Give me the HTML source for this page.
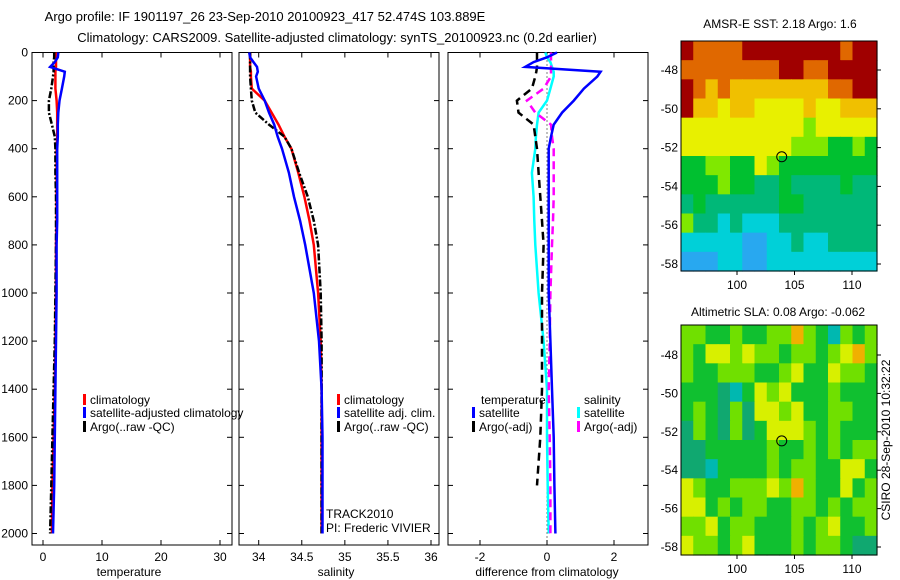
<!DOCTYPE html>
<html><head><meta charset="utf-8"><style>
body{margin:0;background:#fff}
svg{display:block;font-family:"Liberation Sans",sans-serif}
text{font-size:12px;fill:#000}
</style></head><body>
<svg id="c" width="900" height="580" viewBox="0 0 900 580">
<text x="265" y="21" text-anchor="middle" style="font-size:13px">Argo profile: IF 1901197_26 23-Sep-2010 20100923_417 52.474S 103.889E</text>
<text x="337" y="42" text-anchor="middle" style="font-size:13px">Climatology: CARS2009. Satellite-adjusted climatology: synTS_20100923.nc (0.2d earlier)</text>
<text x="780" y="28" text-anchor="middle">AMSR-E SST: 2.18 Argo: 1.6</text>
<text x="778" y="316" text-anchor="middle">Altimetric SLA: 0.08 Argo: -0.062</text>
<text transform="translate(890,440) rotate(-90)" text-anchor="middle">CSIRO 28-Sep-2010 10:32:22</text>
<g id="g"></g>
</svg>
<script>
// ---- data ----
const depths=[0,20,40,60,80,100,150,200,250,300,350,400,500,600,700,800,1000,1200,1400,1600,1800,2000];
const tempClim=[2.2,2.2,2.2,2.2,2.1,2.1,2.1,2.3,2.4,2.4,2.4,2.3,2.3,2.3,2.3,2.2,2.2,2.1,2.0,1.8,1.6,1.5];
const tempSat=[2.6,2.5,2.0,1.2,3.7,3.6,3.2,2.8,2.6,2.5,2.5,2.4,2.4,2.4,2.4,2.3,2.3,2.2,2.1,2.0,1.9,1.7];
const tempArgo=[1.9,1.9,1.8,1.8,1.8,1.7,1.4,1.0,1.0,1.5,2.0,2.1,2.1,2.2,2.2,2.2,2.1,2.0,1.8,1.6,1.4,1.2];
const salClim=[33.9,33.9,33.9,33.9,33.91,33.91,33.92,34.07,34.15,34.23,34.3,34.38,34.46,34.53,34.59,34.64,34.69,34.72,34.73,34.73,34.73,34.73];
const salSat=[33.89,33.9,33.94,33.98,33.99,33.97,34.0,34.07,34.12,34.18,34.22,34.27,34.35,34.41,34.48,34.54,34.64,34.7,34.73,34.74,34.74,34.74];
const salArgo=[33.9,33.9,33.9,33.9,33.9,33.9,33.91,33.92,33.96,34.12,34.3,34.38,34.47,34.57,34.64,34.69,34.72,34.73,34.73,34.73,34.73,34.73];
const dTempSat=[0.3,0,-0.4,-0.65,1.6,1.5,1.1,0.8,0.45,0.2,0.12,0.05,0.05,0.05,0.05,0.05,0.05,0.1,0.15,0.2,0.22,0.25];
const dTempArgo=[-0.3,-0.3,-0.3,-0.3,-0.32,-0.35,-0.45,-0.9,-0.85,-0.4,-0.35,-0.3,-0.25,-0.2,-0.15,-0.1,-0.15,-0.15,-0.15,-0.2,-0.3,-0.3];
const dSalSat=[-0.05,0,0.1,0.15,0.2,0.2,0.1,0,-0.25,-0.3,-0.33,-0.35,-0.45,-0.4,-0.38,-0.35,-0.25,-0.1,0,0,0.02,0.05];
const dSalArgo=[0.12,0.12,0.12,0.12,0.12,0.12,-0.1,-0.6,-0.35,0.12,0.15,0.2,0.2,0.2,0.18,0.15,0.1,0.08,0.05,0.08,0.1,0.1];
const yTicks=[0,200,400,600,800,1000,1200,1400,1600,1800,2000];
const tTicks=[0,10,20,30];
const sTicks=[34,34.5,35,35.5,36];
const dTicks=[-2,0,2];
const latTicks=[-48,-50,-52,-54,-56,-58];
const lonTicks=[100,105,110];
const argoPos=[103.889,-52.474];
const sstGrid=[
"8777788888888788","7777777788778888","8767666666667788","8665665555655666",
"5555555555455555","5555555554443343","3344335433333333","3334332232222322",
"2322222233222222","4221211122222222","1111100112112222","0001100111111111"];
const slaGrid=[
"4433433446431434","4355454434434564","4334443345335443","3332135453334333",
"3432425545334433","2432423555434333","2233333433434344","2213333434433553",
"5433444546433534","5534344334434344","4453443334345334","5443453334344322"];
const palette=["#28a8f0","#00d0d8","#00b878","#00c030","#80e800","#e8f000","#f0c000","#e06800","#a00000"];
const slaPalette=["#28a8f0","#00b8b0","#10a870","#10c030","#70e000","#d8f000","#f0b000","#e07000","#a00000"];

const NS="http://www.w3.org/2000/svg";
const G=document.getElementById('g');
function mk(tag,attrs,parent){const e=document.createElementNS(NS,tag);for(const k in attrs)e.setAttribute(k,attrs[k]);(parent||G).appendChild(e);return e;}
const yTop=52.5,yBot=545;
function yD(d){return 52.5+d*0.2405;}
function lin(d0,d1,p0,p1){return v=>p0+(v-d0)*(p1-p0)/(d1-d0);}

const panels=[
 {name:'temperature-panel',x0:32,x1:232,sx:lin(0,10,43,102),ticks:tTicks,label:'temperature',lx:129,ylabels:true},
 {name:'salinity-panel',x0:239,x1:439,sx:lin(34,36,258.7,431),ticks:sTicks,label:'salinity',lx:336},
 {name:'difference-panel',x0:448,x1:648,sx:lin(-2,2,480,614),ticks:dTicks,label:'difference from climatology',lx:547}
];
panels.forEach(p=>{
 const g=mk('g',{});
 
 
 const r=mk('rect',{x:p.x0,y:yTop,width:p.x1-p.x0,height:yBot-yTop,fill:'none',stroke:'#000','stroke-width':1},g);
 
 
 p.ticks.forEach(t=>{const x=p.sx(t);
  mk('line',{x1:x,x2:x,y1:yBot,y2:yBot-5,stroke:'#000'},g);
  mk('line',{x1:x,x2:x,y1:yTop,y2:yTop+5,stroke:'#000'},g);
  const tx=mk('text',{x:x,y:561,'text-anchor':'middle'},g);tx.textContent=t;
  
  
 });
 yTicks.forEach(t=>{const y=yD(t);
  mk('line',{x1:p.x0,x2:p.x0+5,y1:y,y2:y,stroke:'#000'},g);
  mk('line',{x1:p.x1,x2:p.x1-5,y1:y,y2:y,stroke:'#000'},g);
  if(p.ylabels){const tx=mk('text',{x:28,y:y+4,'text-anchor':'end'},g);tx.textContent=t;
   
   }
 });
 const al=mk('text',{x:p.lx,y:576,'text-anchor':'middle'},g);al.textContent=p.label;
 
 
});
function series(p,vals,color,dash,name,maxD){
 let pts=[];depths.forEach((d,i)=>{if(maxD===undefined||d<=maxD)pts.push(p.sx(vals[i]).toFixed(1)+','+yD(d).toFixed(1));});
 const a={points:pts.join(' '),fill:'none',stroke:color,'stroke-width':2.5};
 if(dash)a['stroke-dasharray']=dash;
 const e=mk('polyline',a);
 
 
}
const zl=mk('line',{x1:panels[2].sx(0),x2:panels[2].sx(0),y1:yTop,y2:yD(2030),stroke:'#000','stroke-dasharray':'1,3'});


series(panels[0],tempClim,'#f00','', 'temp-climatology-line');
series(panels[0],tempArgo,'#000','7,2,2,2','temp-argo-line');
series(panels[0],tempSat,'#00f','','temp-satellite-line');
series(panels[1],salClim,'#f00','','sal-climatology-line');
series(panels[1],salArgo,'#000','7,2,2,2','sal-argo-line');
series(panels[1],salSat,'#00f','','sal-satellite-line');
series(panels[2],dSalSat,'#0ff','','diff-sal-satellite-line');
series(panels[2],dTempArgo,'#000','8,5','diff-temp-argo-line',1920);
series(panels[2],dSalArgo,'#f0f','8,5','diff-sal-argo-line');
series(panels[2],dTempSat,'#00f','','diff-temp-satellite-line');

function legend(x,y,color,label,name){
 const g=mk('g',{});
 
 
 mk('rect',{x:x,y:y-10,width:3,height:11,fill:color},g);
 const t=mk('text',{x:x+7,y:y},g);t.textContent=label;
}
legend(83,404,'#f00','climatology','legend-climatology');
legend(83,417,'#00f','satellite-adjusted climatology','legend-satellite-adjusted');
legend(83,431,'#000','Argo(..raw -QC)','legend-argo-raw');
legend(337,404,'#f00','climatology','legend-sal-climatology');
legend(337,417,'#00f','satellite adj. clim.','legend-sal-satellite');
legend(337,431,'#000','Argo(..raw -QC)','legend-sal-argo');
let t1=mk('text',{x:481,y:404});t1.textContent='temperature';


let t2=mk('text',{x:584,y:404});t2.textContent='salinity';


legend(472,417,'#00f','satellite','legend-diff-temp-satellite');
legend(472,431,'#000','Argo(-adj)','legend-diff-temp-argo');
legend(577,417,'#0ff','satellite','legend-diff-sal-satellite');
legend(577,431,'#f0f','Argo(-adj)','legend-diff-sal-argo');
let tr=mk('text',{x:326,y:518});tr.textContent='TRACK2010';


let pi=mk('text',{x:326,y:532});pi.textContent='PI: Frederic VIVIER';



function map(grid,pal,top,bot,lat48,lat58,name){
 const x0=681,x1=877;
 const lx=lin(100,110,737,852), ly=lin(-48,-58,lat48,lat58);
 const g=mk('g',{});
 
 
 const rows=grid.length, cols=grid[0].length;
 const cw=(x1-x0)/cols, rh=(bot-top)/rows;
 grid.forEach((row,r)=>{for(let c=0;c<cols;c++){
  const cell=mk('rect',{x:(x0+c*cw).toFixed(2),y:(top+r*rh).toFixed(2),width:(cw+0.6).toFixed(2),height:(rh+0.6).toFixed(2),fill:pal[+row[c]]},g);
  
  
 }});
 mk('rect',{x:x0,y:top,width:x1-x0,height:bot-top,fill:'none',stroke:'#000'},g);
 latTicks.forEach(t=>{const y=ly(t);
  mk('line',{x1:x1,x2:x1+4,y1:y,y2:y,stroke:'#000'},g);
  const tx=mk('text',{x:x0-3,y:y+4,'text-anchor':'end'},g);tx.textContent=t;
  
  });
 lonTicks.forEach(t=>{const x=lx(t);
  mk('line',{x1:x,x2:x,y1:bot,y2:bot+4,stroke:'#000'},g);
  const tx=mk('text',{x:x,y:bot+18,'text-anchor':'middle'},g);tx.textContent=t;
  
  });
 const m=mk('circle',{cx:lx(argoPos[0]),cy:ly(argoPos[1]),r:5,fill:'none',stroke:'#000'},g);
 
 
}
map(sstGrid,palette,41,271,70,264,'sst-map');
map(slaGrid,slaPalette,325,555,355,547,'sla-map');
</script>
</body></html>
